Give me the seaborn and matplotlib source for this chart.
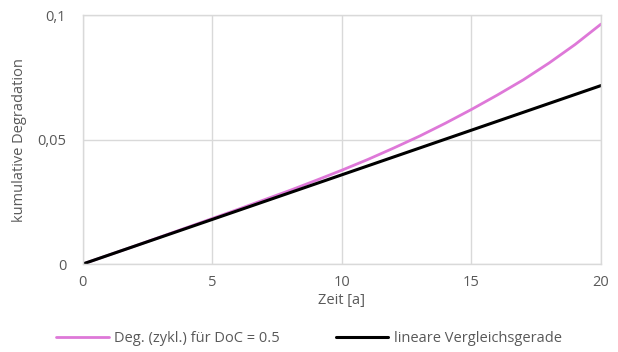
import matplotlib
matplotlib.use("Agg")
import matplotlib.pyplot as plt
import seaborn as sns
import pandas as pd
from matplotlib.lines import Line2D

# Cumulative degradation over time (years)
years_cyc = list(range(0, 21))
deg_cyc = [0.0, 0.0036, 0.0072, 0.0109, 0.0146, 0.0183, 0.0220, 0.0258, 0.0296,
           0.0336, 0.0377, 0.0420, 0.0466, 0.0514, 0.0566, 0.0621, 0.0679,
           0.0740, 0.0808, 0.0882, 0.0964]
years_lin = [0, 20]
deg_lin = [0.0, 0.0717]

label_cyc = "Deg. (zykl.) für DoC = 0.5"
label_lin = "lineare Vergleichsgerade"
x_ticks = [0, 5, 10, 15, 20]
y_ticks = [0, 0.05, 0.1]
y_tick_labels = ["0", "0,05", "0,1"]

df = pd.concat([
    pd.DataFrame({"Zeit": years_cyc, "Deg": deg_cyc, "Serie": label_cyc}),
    pd.DataFrame({"Zeit": years_lin, "Deg": deg_lin, "Serie": label_lin}),
])

sns.set_theme(style="white")
plt.rcParams["font.family"] = ["Open Sans", "DejaVu Sans"]

text_col = "#595959"
grid_col = "#D9D9D9"
fs = 10.5

fig = plt.figure(figsize=(6.18, 3.52), dpi=100)
ax = fig.add_axes([0.134, 0.25, 0.8385, 0.707])

sns.lineplot(data=df, x="Zeit", y="Deg", hue="Serie",
             palette={label_cyc: "#DE78D8", label_lin: "#000000"},
             ax=ax, legend=False, sort=True)
ax.lines[0].set_linewidth(2.0)
ax.lines[1].set_linewidth(2.2)

ax.set_xlim(0, 20)
ax.set_ylim(0, 0.1)
ax.set_xticks(x_ticks)
ax.set_xticklabels([str(t) for t in x_ticks])
ax.set_yticks(y_ticks)
ax.set_yticklabels(y_tick_labels)
ax.tick_params(axis="both", length=0, labelsize=fs, labelcolor=text_col)
ax.tick_params(axis="x", pad=8)
ax.tick_params(axis="y", pad=12)

ax.grid(True, color=grid_col, linewidth=1.0)
ax.set_axisbelow(True)
for sp in ax.spines.values():
    sp.set_color(grid_col)
    sp.set_linewidth(1.0)

ax.set_xlabel("Zeit [a]", fontsize=fs, color=text_col, labelpad=2)
ax.set_ylabel("kumulative Degradation", fontsize=fs, color=text_col, labelpad=7)

handles = [Line2D([], [], color="#DE78D8", linewidth=2.0),
           Line2D([], [], color="#000000", linewidth=2.2)]
fig.legend(handles, [label_cyc, label_lin], loc="center",
           bbox_to_anchor=(0.5, 0.037), ncol=2, frameon=False,
           fontsize=fs, labelcolor=text_col, handlelength=3.6,
           handletextpad=0.4, columnspacing=3.8)

fig.savefig("out.png", dpi=100)
